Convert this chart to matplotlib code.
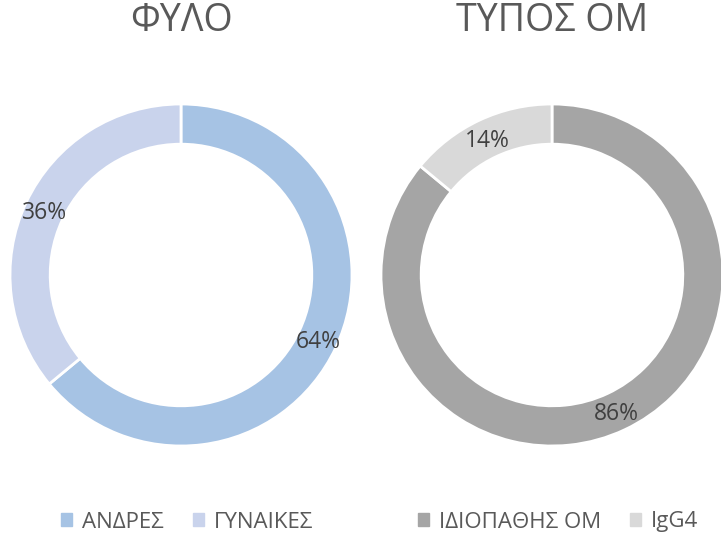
import matplotlib
matplotlib.use("Agg")
import numpy as np
import matplotlib.pyplot as plt
from matplotlib.patches import Patch

plt.rcParams['font.family'] = ['Open Sans', 'DejaVu Sans']

# data
sex_labels = ['ΑΝΔΡΕΣ', 'ΓΥΝΑΙΚΕΣ']
sex_values = [64, 36]
type_labels = ['ΙΔΙΟΠΑΘΗΣ ΟΜ', 'IgG4']
type_values = [86, 14]
titles = ['ΦΥΛΟ', 'ΤΥΠΟΣ ΟΜ']

sex_colors = ['#A6C3E4', '#C9D3EC']
type_colors = ['#A5A5A5', '#D9D9D9']
txt = '#404040'

W, H = 721, 540
fig = plt.figure(figsize=(W / 100, H / 100), dpi=100)

def add_donut(cx, cy, r, values, colors):
    ax = fig.add_axes([(cx - r) / W, (H - cy - r) / H, 2 * r / W, 2 * r / H])
    ax.pie(values, colors=colors, startangle=90, counterclock=False,
           radius=1, wedgeprops=dict(width=0.235, edgecolor='white', linewidth=2))
    ax.set_xlim(-1, 1)
    ax.set_ylim(-1, 1)
    ax.set_aspect('equal')
    ax.axis('off')
    # labels on ring
    tot = sum(values)
    start = 90
    for v in values:
        ang = np.deg2rad(start - v / tot * 180)
        rr = 0.885
        ax.text(rr * np.cos(ang), rr * np.sin(ang) - 0.015, f'{v}%', ha='center', va='center',
                fontsize=16.5, color=txt)
        start -= v / tot * 360
    return ax

add_donut(181, 275, 171, sex_values, sex_colors)
add_donut(552, 275, 171, type_values, type_colors)

fig.text(181 / W, 1 - 21 / H, titles[0], ha='center', va='center', fontsize=27, color='#595959')
fig.text(552 / W, 1 - 21 / H, titles[1], ha='center', va='center', fontsize=27, color='#595959')

h1 = [Patch(color=c) for c in sex_colors]
h2 = [Patch(color=c) for c in type_colors]
leg_kw = dict(loc='center', ncol=2, frameon=False, fontsize=16, handlelength=0.5,
              handleheight=0.5, handletextpad=0.45, columnspacing=1.3, labelcolor='#595959',
              borderaxespad=0, borderpad=0)
fig.legend(h1, sex_labels, bbox_to_anchor=(187 / W, 1 - 522 / H), **leg_kw)
fig.legend(h2, type_labels, bbox_to_anchor=(558 / W, 1 - 522 / H), **leg_kw)

fig.savefig('out.png', dpi=100)
